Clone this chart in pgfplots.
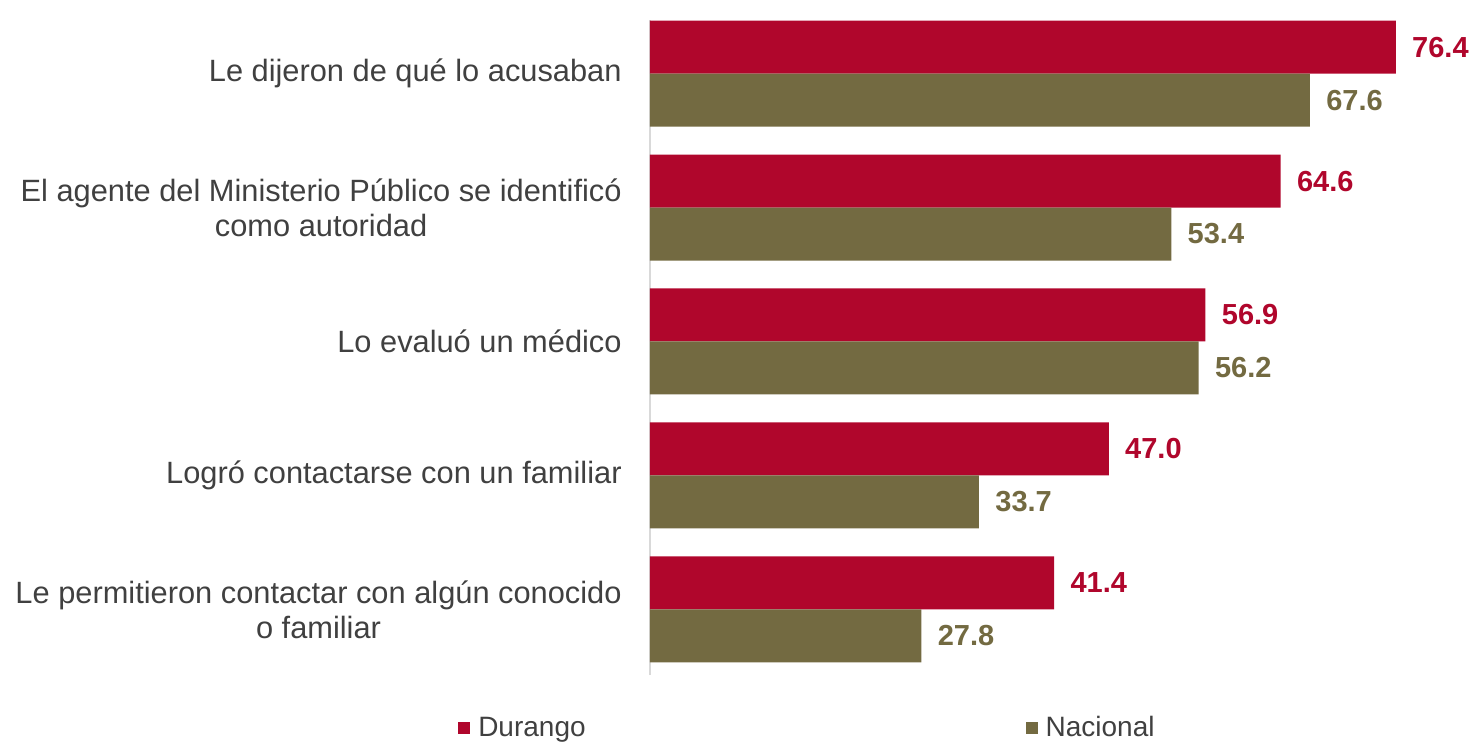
\documentclass[border=0pt]{standalone}
\usepackage{fontspec}
\setmainfont{Liberation Sans}
\usepackage{pgfplots}
\pgfplotsset{compat=1.18}
\definecolor{dur}{HTML}{B0062C}
\definecolor{nac}{HTML}{736A41}
\definecolor{txt}{HTML}{404040}
\begin{document}
\begin{tikzpicture}
\begin{axis}[
  name=ax,
  scale only axis,
  width=390.5pt, height=327.5pt,
  xbar, bar width=26.5pt,
  xmin=0, xmax=80,
  ymin=-0.49, ymax=4.4,
  axis x line=none,
  axis y line*=left,
  y axis line style={draw=black!15, line width=0.8pt},
  ytick={0,1,2,3,4},
  yticklabels={{Le permitieron contactar con algún conocido\\o familiar},
               {Logró contactarse con un familiar},
               {Lo evaluó un médico},
               {El agente del Ministerio Público se identificó\\como autoridad},
               {Le dijeron de qué lo acusaban}},
  ytick style={draw=none},
  major tick length=0pt,
  yticklabel style={align=center, anchor=east, inner sep=0pt, xshift=-14pt,
    font=\fontsize{15.4}{17.5}\selectfont, text=txt},
  point meta=x,
  nodes near coords,
  nodes near coords align={horizontal},
  every node near coord/.append style={font=\fontsize{14.5}{17}\selectfont\bfseries, anchor=west, inner sep=0pt, xshift=8pt},
  /pgf/number format/.cd, fixed, fixed zerofill, precision=1, assume math mode=true,
  /pgfplots/.cd,
  legend columns=2,
  legend style={draw=none, fill=none, at={(-0.246,0)}, anchor=west, yshift=-26.5pt, inner sep=0pt,
    font=\fontsize{14}{16}\selectfont, text=txt,
    nodes={inner sep=4pt},
    /tikz/every even column/.append style={column sep=216pt}},
  legend image code/.code={\fill[#1,draw=none] (0pt,-3pt) rectangle (6pt,3pt);},
]
\addplot[fill=dur, draw=none, bar shift=13.25pt, every node near coord/.append style={text=dur}]
  coordinates {(41.4,0) (47.0,1) (56.9,2) (64.6,3) (76.4,4)};
\addplot[fill=nac, draw=none, bar shift=-13.25pt, every node near coord/.append style={text=nac}]
  coordinates {(27.8,0) (33.7,1) (56.2,2) (53.4,3) (67.6,4)};
\legend{Durango, Nacional}
\end{axis}
\pgfresetboundingbox
\path ([xshift=-325pt,yshift=-33.5pt]ax.south west) rectangle ([xshift=413pt,yshift=10pt]ax.north west);
\end{tikzpicture}
\end{document}
